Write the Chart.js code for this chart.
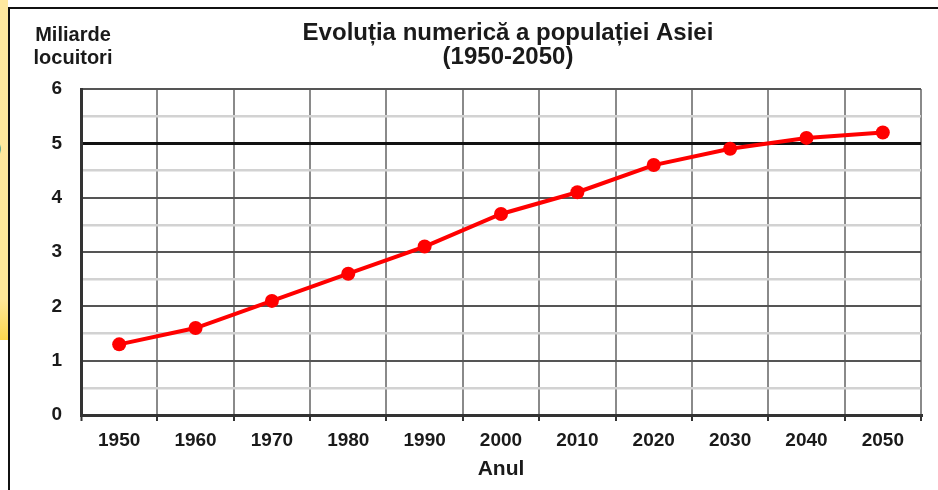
<!DOCTYPE html>
<html lang="ro">
<head>
  <meta charset="UTF-8">
  <title>Evoluția numerică a populației Asiei</title>
  <style>
    body {
      margin: 0;
      padding: 0;
      width: 938px;
      height: 490px;
      overflow: hidden;
      background: #fff;
      font-family: "Liberation Sans", Arial, sans-serif;
      position: relative;
    }
    .strip {
      position: absolute;
      left: 0;
      top: 0;
      width: 8px;
      height: 340px;
      background: linear-gradient(to bottom, #fee9a0 0%, #fee899 88%, #fcd84e 100%);
    }
    .strip-char {
      position: absolute;
      left: -10px;
      top: 138px;
      font-weight: bold;
      font-size: 20px;
      color: #222;
    }
    .frame {
      position: absolute;
      left: 8px;
      top: 7px;
      right: 0;
      bottom: 0;
      border-left: 2px solid #111;
      border-top: 2px solid #111;
    }
    #popChart {
      position: absolute;
      left: 0;
      top: 0;
    }
  </style>
  <script src="https://cdn.jsdelivr.net/npm/chart.js"></script>
</head>
<body>
  <div class="strip"></div>
  <div class="strip-char">0</div>
  <div class="frame"></div>
  <canvas id="popChart" width="938" height="490"></canvas>
  <script>
    const years = ['1950', '1960', '1970', '1980', '1990', '2000', '2010', '2020', '2030', '2040', '2050'];
    const population = [1.3, 1.6, 2.1, 2.6, 3.1, 3.7, 4.1, 4.6, 4.9, 5.1, 5.2];
    const titleLines = ['Evoluția numerică a populației Asiei', '(1950-2050)'];
    const yTitleLines = ['Miliarde', 'locuitori'];
    const xTitle = 'Anul';

    const fontFamily = '"Liberation Sans", Arial, sans-serif';

    // titles drawn around the chart area
    const labelsPlugin = {
      id: 'labels',
      afterDraw(chart) {
        const ctx = chart.ctx;
        const area = chart.chartArea;
        ctx.save();
        ctx.fillStyle = '#1a1a1a';
        ctx.textAlign = 'center';
        ctx.textBaseline = 'middle';

        ctx.font = 'bold 24px ' + fontFamily;
        ctx.fillText(titleLines[0], 508, 33);
        ctx.fillText(titleLines[1], 508, 57);

        ctx.font = 'bold 20px ' + fontFamily;
        ctx.fillText(yTitleLines[0], 73, 35);
        ctx.fillText(yTitleLines[1], 73, 58);

        ctx.font = 'bold 21px ' + fontFamily;
        ctx.fillText(xTitle, (area.left + area.right) / 2, 469);
        ctx.restore();
      }
    };

    new Chart(document.getElementById('popChart'), {
      type: 'line',
      data: {
        labels: years,
        datasets: [{
          data: population,
          borderColor: '#ff0000',
          borderWidth: 4,
          pointRadius: 7,
          pointHoverRadius: 7,
          pointBackgroundColor: '#ff0000',
          pointBorderWidth: 0,
          tension: 0
        }]
      },
      options: {
        responsive: false,
        animation: false,
        layout: {
          padding: { left: 0, right: 17, top: 89, bottom: 0 }
        },
        plugins: {
          legend: { display: false },
          tooltip: { enabled: false }
        },
        scales: {
          x: {
            offset: true,
            grid: {
              offset: true,
              color: ctx => (ctx.index === 0 || ctx.index === years.length) ? '#444' : '#8a8a8a',
              lineWidth: ctx => (ctx.index === 0 || ctx.index === years.length) ? 3 : 2,
              tickLength: 6,
              tickColor: '#333',
              tickWidth: 2
            },
            border: { display: true, color: '#333', width: 3 },
            ticks: {
              color: '#1a1a1a',
              font: { family: fontFamily, size: 19, weight: 'bold' },
              padding: 8,
              maxRotation: 0
            },
            afterFit(scale) { scale.height = 75; }
          },
          y: {
            min: 0,
            max: 6,
            ticks: {
              stepSize: 0.5,
              color: '#1a1a1a',
              font: { family: fontFamily, size: 19, weight: 'bold' },
              padding: 19,
              callback: v => Number.isInteger(v) ? v : ''
            },
            grid: {
              drawTicks: false,
              color: ctx => {
                const v = ctx.tick.value;
                if (v === 5) return '#111';
                return Number.isInteger(v) ? '#555' : '#d2d2d2';
              },
              lineWidth: ctx => {
                const v = ctx.tick.value;
                if (v === 5) return 3;
                return Number.isInteger(v) ? 2 : 2.5;
              }
            },
            border: { display: true, color: '#333', width: 3 },
            afterFit(scale) { scale.width = 81; }
          }
        }
      },
      plugins: [labelsPlugin]
    });
  </script>
</body>
</html>
